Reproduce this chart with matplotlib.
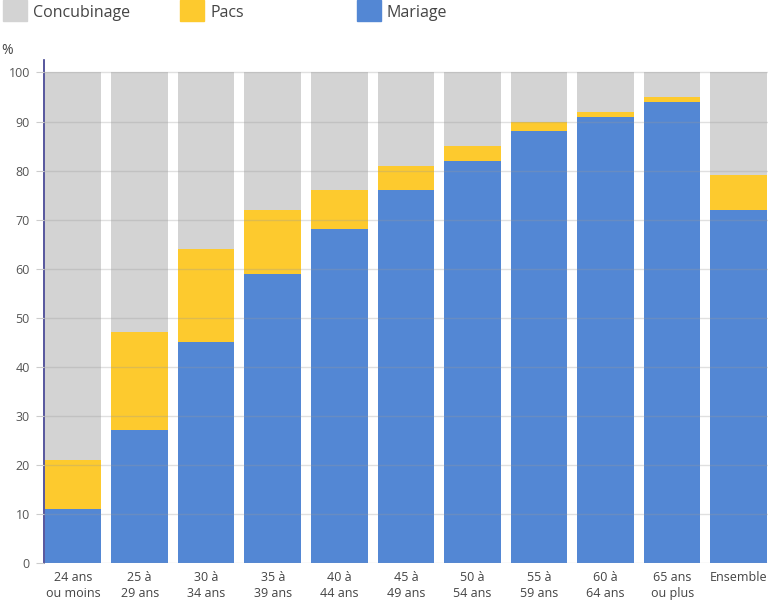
import matplotlib.pyplot as plt
from matplotlib.patches import Rectangle

plt.rcParams['font.family'] = ['Open Sans', 'DejaVu Sans']

categories = ['24 ans\nou moins', '25 à\n29 ans', '30 à\n34 ans', '35 à\n39 ans',
              '40 à\n44 ans', '45 à\n49 ans', '50 à\n54 ans', '55 à\n59 ans',
              '60 à\n64 ans', '65 ans\nou plus', 'Ensemble']
mariage = [11, 27, 45, 59, 68, 76, 82, 88, 91, 94, 72]
pacs = [10, 20, 19, 13, 8, 5, 3, 2, 1, 1, 7]
concubinage = [100 - m - p for m, p in zip(mariage, pacs)]

c_conc = '#d3d3d3'
c_pacs = '#fdca2e'
c_mar = '#5387d4'

fig = plt.figure(figsize=(7.68, 6.02), dpi=100)
ax = fig.add_axes([0.057, 0.065, 0.943, 0.835])

x = range(len(categories))
w = 0.85
ax.bar(x, mariage, width=w, color=c_mar, zorder=1)
ax.bar(x, pacs, width=w, bottom=mariage, color=c_pacs, zorder=1)
bottom2 = [m + p for m, p in zip(mariage, pacs)]
ax.bar(x, concubinage, width=w, bottom=bottom2, color=c_conc, zorder=1)

ax.set_xlim(-0.44, 10.44)
ax.set_ylim(0, 102.5)
ax.set_yticks(range(0, 101, 10))
ax.yaxis.grid(True, color='#999999', alpha=0.3, linewidth=1, zorder=2)
ax.set_axisbelow(False)
ax.set_xticks(list(x))
ax.set_xticklabels(categories, fontsize=9, color='#444444', linespacing=1.3)
ax.tick_params(axis='x', length=0, pad=6)
ax.tick_params(axis='y', length=6, color='#cccccc', labelsize=9, labelcolor='#555555', pad=4)
for s in ['top', 'right', 'bottom']:
    ax.spines[s].set_visible(False)
ax.spines['left'].set_color('#3a3a8c')
ax.spines['left'].set_linewidth(1.2)

fig.text(0.002, 0.91, '%', fontsize=10, color='#444444')

# legend across the top
legend_items = [('Concubinage', c_conc, 3), ('Pacs', c_pacs, 180), ('Mariage', c_mar, 357)]
for label, col, px in legend_items:
    fig.patches.append(Rectangle((px / 768, 1 - 21 / 602), 24 / 768, 21 / 602,
                                 transform=fig.transFigure, color=col))
    fig.text((px + 30) / 768, 1 - 13 / 602, label, fontsize=11.5, color='#444444', va='center')

fig.savefig('out.png', dpi=100)
